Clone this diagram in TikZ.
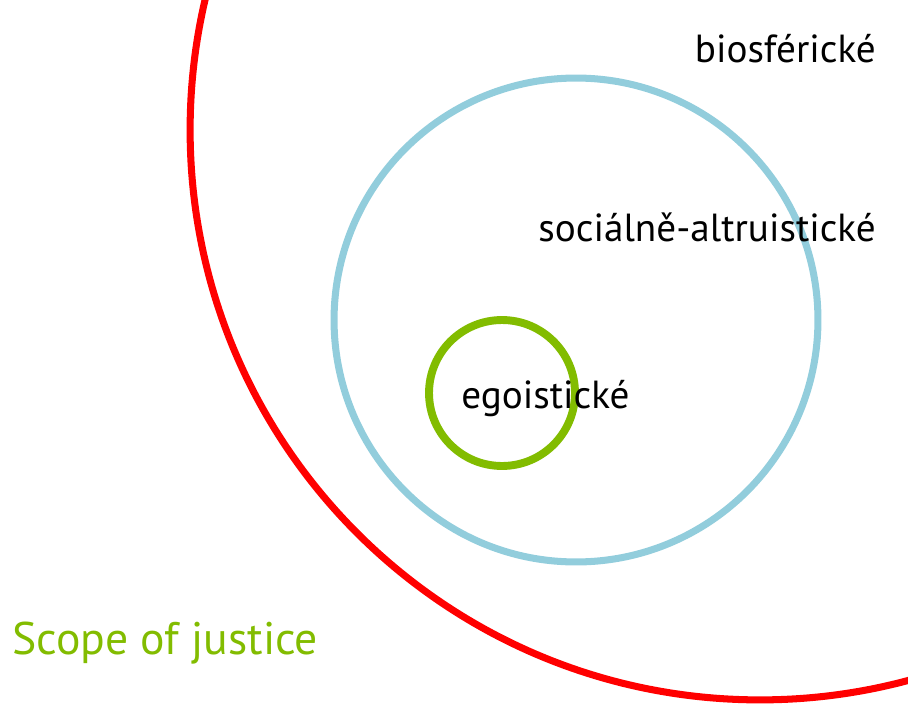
\documentclass[tikz,border=0pt]{standalone}
\usepackage{fontspec}
\setmainfont{PT Sans}
\usepackage{tikz}
\usetikzlibrary{shapes,arrows}
\definecolor{scopered}{RGB}{255,0,0}
\definecolor{socblue}{RGB}{146,205,220}
\definecolor{egogreen}{RGB}{130,188,0}
\tikzstyle{ring} = [circle, draw, inner sep=0pt, line width=4pt]
\tikzstyle{label} = [inner sep=0pt, font=\fontsize{22.3}{26}\selectfont]

\begin{document}
\begin{tikzpicture}[x=0.02cm, y=-0.02cm]
    \useasboundingbox (0,0) rectangle (908,706);
    \clip (0,0) rectangle (908,706);
    % Place rings
    \node [ring, draw=scopered, minimum size=22.8cm] (bio) at (760,130) {};
    \node [ring, draw=socblue, minimum size=9.68cm] (social) at (576,320) {};
    \node [ring, draw=egogreen, line width=4.5pt, minimum size=2.92cm] (ego) at (502,393) {};
    % Place labels
    \node [label, anchor=base east] (biotext) at (876,63) {biosférické};
    \node [label, anchor=base east] (socialtext) at (876,241) {sociálně-altruistické};
    \node [label, anchor=base west] (egotext) at (461,408) {egoistické};
    \node [label, anchor=base west, text=egogreen, font=\fontsize{26}{30}\selectfont] (scope) at (12,654) {Scope of justice};
\end{tikzpicture}
\end{document}
